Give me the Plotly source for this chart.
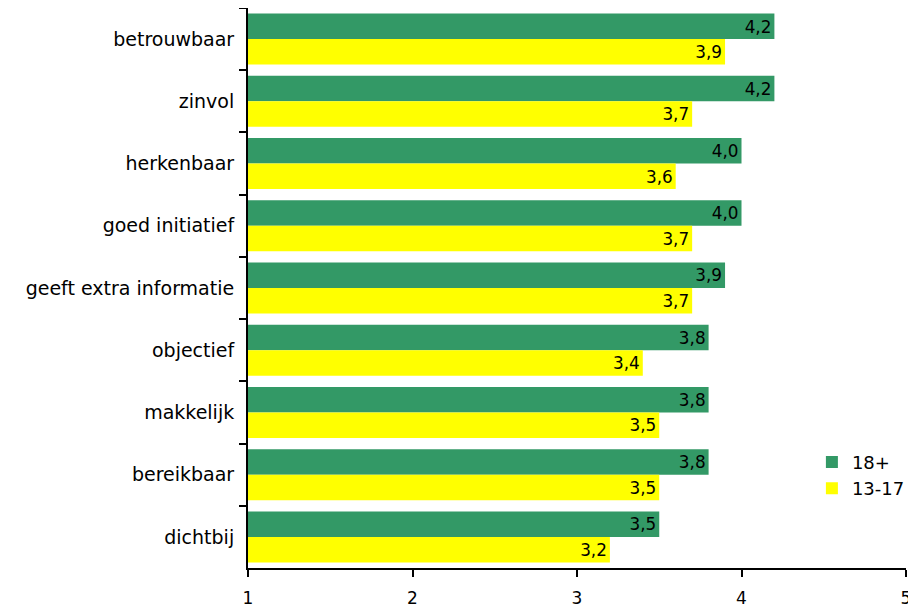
import plotly.graph_objects as go

categories = ["betrouwbaar", "zinvol", "herkenbaar", "goed initiatief",
              "geeft extra informatie", "objectief", "makkelijk", "bereikbaar", "dichtbij"]
adults = [4.2, 4.2, 4.0, 4.0, 3.9, 3.8, 3.8, 3.8, 3.5]
teens = [3.9, 3.7, 3.6, 3.7, 3.7, 3.4, 3.5, 3.5, 3.2]
axis_base = 1
x_ticks = [1, 2, 3, 4, 5]

def fmt(v):
    return f"{v:.1f}".replace(".", ",")

FONT = "DejaVu Sans"

fig = go.Figure()
for name, vals, color in [("18+", adults, "#339966"), ("13-17", teens, "#FFFF00")]:
    fig.add_trace(go.Bar(
        y=categories, x=[v - axis_base for v in vals], base=axis_base,
        orientation="h", name=name, marker=dict(color=color, line=dict(width=0)),
        text=[fmt(v) for v in vals], textposition="inside", insidetextanchor="end",
        textfont=dict(family=FONT, size=19, color="black"),
        textangle=0, cliponaxis=False,
    ))

fig.update_layout(
    width=908, height=601,
    margin=dict(l=240, r=10, t=0, b=41, autoexpand=False),
    barmode="group", bargap=0.18, bargroupgap=0,
    plot_bgcolor="white", paper_bgcolor="white",
    font=dict(family=FONT, size=18, color="black"),
    uniformtext=dict(mode=False),
    legend=dict(x=0.857, y=0.222, xanchor="left", yanchor="top",
                font=dict(family=FONT, size=18), bgcolor="rgba(0,0,0,0)",
                itemwidth=30, tracegroupgap=0),
    showlegend=True,
)
fig.update_xaxes(range=[1, 5], tickvals=x_ticks, ticktext=[str(t) for t in x_ticks],
                 showgrid=False, zeroline=False, showline=True, linecolor="black",
                 linewidth=2, ticks="outside", ticklen=7, tickwidth=2, tickcolor="black",
                 ticklabelstandoff=7, tickfont=dict(size=17), automargin=False)
fig.update_yaxes(autorange="reversed", showgrid=False, showline=True, linecolor="black",
                 linewidth=2, ticks="outside", tickson="boundaries", ticklen=7,
                 tickwidth=2, tickcolor="black", ticklabelstandoff=8,
                 tickfont=dict(size=19), automargin=False)

fig.write_html("out.html")
